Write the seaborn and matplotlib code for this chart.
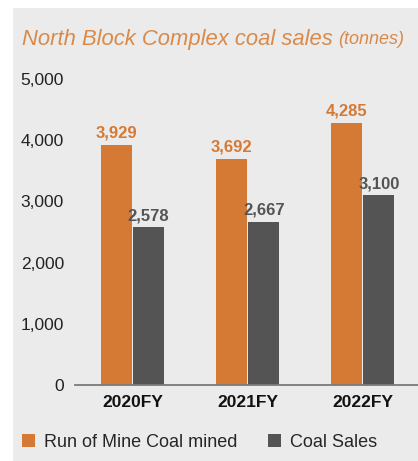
import pandas as pd
import seaborn as sns
import matplotlib.pyplot as plt
from matplotlib.patches import Rectangle, Patch

years = ["2020FY", "2021FY", "2022FY"]
rom_mined = [3929, 3692, 4285]
coal_sales = [2578, 2667, 3100]
series = ["Run of Mine Coal mined", "Coal Sales"]

naranja = "#D57A35"
gris = "#545454"
fondo = "#EBEBEB"
fuente = ["Liberation Sans", "DejaVu Sans"]

df = pd.DataFrame({
    "Year": years * 2,
    "Tonnes": rom_mined + coal_sales,
    "Serie": [series[0]] * 3 + [series[1]] * 3,
})

sns.set_style("white")
plt.rcParams["font.family"] = fuente

W, H = 418, 461
fig = plt.figure(figsize=(W / 100, H / 100), dpi=100)
fig.patch.set_facecolor("white")
fig.add_artist(Rectangle((13 / W, 0), 1 - 13 / W, 1 - 8 / H, transform=fig.transFigure,
                         facecolor=fondo, edgecolor="none", zorder=0))

ax = fig.add_axes([75 / W, (H - 385) / H, (W - 75) / W, (385 - 79) / H])
ax.set_facecolor(fondo)

sns.barplot(data=df, x="Year", y="Tonnes", hue="Serie", palette=[naranja, gris],
            width=0.56, gap=0.04, saturation=1, linewidth=0, ax=ax, legend=False)

colores = [naranja, gris]
for cont, c in zip(ax.containers, colores):
    ax.bar_label(cont, labels=[f"{v:,.0f}" for v in cont.datavalues], color=c,
                 fontsize=12, fontweight="bold", padding=3)

ax.set_ylim(0, 5000)
ax.set_xlim(-0.5, 2.48)
ax.set_yticks(range(0, 5001, 1000))
ax.set_yticklabels([f"{v:,}" for v in range(0, 5001, 1000)], fontsize=12.5, color="#222222")
ax.tick_params(axis="y", length=0, pad=8)
ax.tick_params(axis="x", length=0, pad=7)
for lbl in ax.get_xticklabels():
    lbl.set_fontsize(12.5)
    lbl.set_fontweight("bold")
    lbl.set_color("#111111")
ax.set_xlabel("")
ax.set_ylabel("")
for s in ["top", "right", "left"]:
    ax.spines[s].set_visible(False)
ax.spines["bottom"].set_color("#7a7a7a")
ax.spines["bottom"].set_linewidth(1.3)

titulo = fig.text(22 / W, 1 - 40 / H, "North Block Complex coal sales", color="#D98A4A",
                  fontsize=15.8, style="italic", va="center", ha="left")
ax.annotate("(tonnes)", xy=(1, 0.5), xycoords=titulo, xytext=(4, 0), textcoords="offset points",
            color="#D98A4A", fontsize=13, style="italic", va="center", ha="left",
            annotation_clip=False)

handles = [Patch(facecolor=naranja, edgecolor="none"), Patch(facecolor=gris, edgecolor="none")]
fig.legend(handles, series, loc="center left", bbox_to_anchor=(6 / W, 1 - 442 / H),
           ncol=2, frameon=False, handlelength=0.72, handleheight=0.72,
           handletextpad=0.5, columnspacing=1.7, prop={"size": 13})

fig.savefig("out.png", dpi=100, facecolor="white")
